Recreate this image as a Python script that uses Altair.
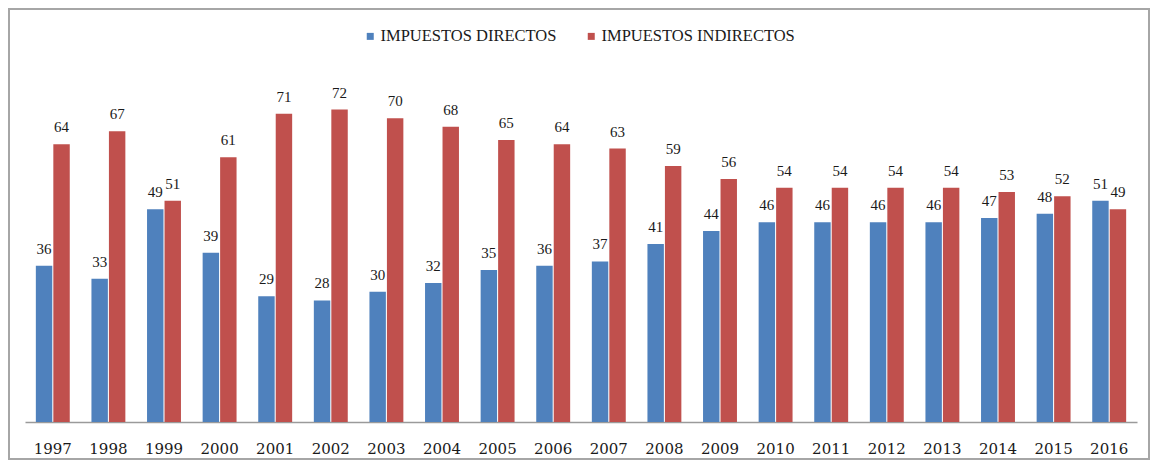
import altair as alt
import pandas as pd

years = [str(y) for y in range(1997, 2017)]
directos = [36, 33, 49, 39, 29, 28, 30, 32, 35, 36, 37, 41, 44, 46, 46, 46, 46, 47, 48, 51]
indirectos = [64, 67, 51, 61, 71, 72, 70, 68, 65, 64, 63, 59, 56, 54, 54, 54, 54, 53, 52, 49]
series = ["IMPUESTOS DIRECTOS", "IMPUESTOS INDIRECTOS"]
colors = ["#4F81BD", "#C0504D"]

rows = []
for i, y in enumerate(years):
    rows.append({"year": y, "serie": series[0], "value": directos[i]})
    rows.append({"year": y, "serie": series[1], "value": indirectos[i]})
df = pd.DataFrame(rows)

FONT = "Liberation Serif"

x = alt.X(
    "year:N",
    sort=years,
    scale=alt.Scale(range=[16, 1128], paddingInner=0.39, paddingOuter=0.195),
    axis=alt.Axis(
        title=None, labelAngle=0, ticks=False, tickSize=0, offset=-37,
        domainColor="#9A9A9A", domainWidth=1.5,
        labelFont="DejaVu Serif", labelFontSize=15, labelColor="#1a1a1a",
        labelBaseline="middle", labelPadding=26,
    ),
)
xo = alt.XOffset("serie:N", sort=series, scale=alt.Scale(paddingInner=0.06))
y = alt.Y(
    "value:Q",
    scale=alt.Scale(domain=[0, 72], range=[413, 100.5], nice=False, zero=True),
    axis=None,
)

bars = alt.Chart(df).mark_bar().encode(
    x=x,
    xOffset=xo,
    y=y,
    color=alt.Color(
        "serie:N",
        sort=series,
        scale=alt.Scale(domain=series, range=colors),
        legend=alt.Legend(
            title=None, orient="none", legendX=353, legendY=19,
            direction="horizontal", symbolType="square", symbolSize=49,
            symbolStrokeWidth=0, labelFont=FONT, labelFontSize=16.5,
            labelColor="#1a1a1a", labelOffset=2, columnPadding=26, padding=0,
            labelLimit=500,
        ),
    ),
)

labels = alt.Chart(df).mark_text(
    font=FONT, fontSize=15, color="#1a1a1a", baseline="alphabetic", dy=-12
).encode(
    x=x,
    xOffset=xo,
    y=y,
    text="value:Q",
)

chart = (
    alt.layer(bars, labels)
    .properties(
        width=1140, height=450,
        autosize=alt.AutoSizeParams(type="none"),
        padding={"left": 1, "top": 1, "right": 1, "bottom": 1},
    )
    .configure_view(stroke="#A6A6A6", strokeWidth=2)
)

chart.save("out.html", embed_options={"renderer": "svg", "actions": False})
